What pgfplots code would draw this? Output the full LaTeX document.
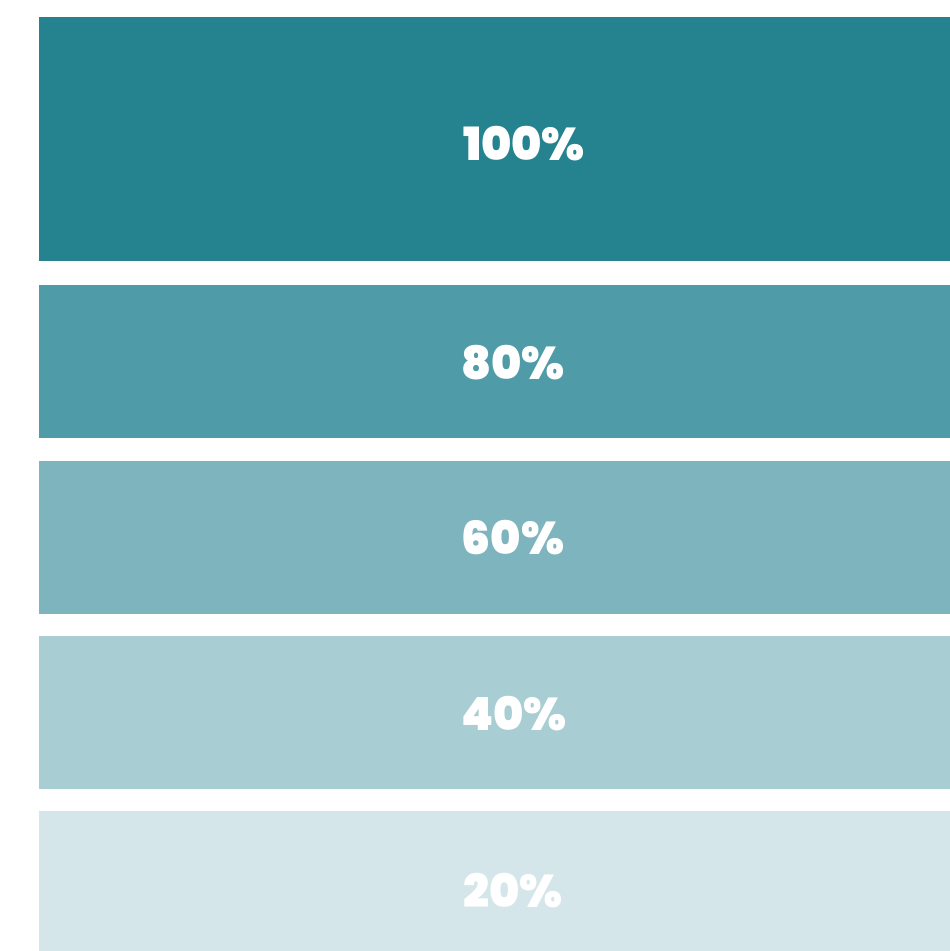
\documentclass[border=0pt]{standalone}
\usepackage{fontspec}
\setmainfont{Poppins}[BoldFont={Poppins Black}]
\usepackage{pgfplots}
\pgfplotsset{compat=1.18}
\definecolor{b1}{HTML}{25838F}
\definecolor{b2}{HTML}{4F9BA8}
\definecolor{b3}{HTML}{7EB4BD}
\definecolor{b4}{HTML}{A8CDD3}
\definecolor{b5}{HTML}{D4E6EA}
\begin{document}
\begin{tikzpicture}
\begin{axis}[
  scale only axis, width=950bp, height=951bp,
  xmin=-39, xmax=911, ymin=0, ymax=951, y dir=reverse,
  hide axis, clip=true,
]
% bands: y = centre of band (pixels from top), x = length
\addplot[xbar, bar shift=0pt, bar width=244, fill=b1, draw=none] coordinates {(946,139)};
\addplot[xbar, bar shift=0pt, bar width=153, fill=b2, draw=none] coordinates {(946,361.5)};
\addplot[xbar, bar shift=0pt, bar width=153, fill=b3, draw=none] coordinates {(946,537.5)};
\addplot[xbar, bar shift=0pt, bar width=153, fill=b4, draw=none] coordinates {(946,712.5)};
\addplot[xbar, bar shift=0pt, bar width=153, fill=b5, draw=none] coordinates {(946,887.5)};
% labels
\addplot[only marks, mark=none, point meta=explicit symbolic,
  nodes near coords, nodes near coords align=center,
  nodes near coords style={anchor=center, text=white, font=\fontsize{46}{46}\selectfont\bfseries}]
  coordinates {(485,144)[100\%] (474,363)[80\%] (474,538)[60\%] (475,714)[40\%] (474,891)[20\%]};
\end{axis}
\path[use as bounding box] (current axis.south west) rectangle (current axis.north east);
\end{tikzpicture}
\end{document}
